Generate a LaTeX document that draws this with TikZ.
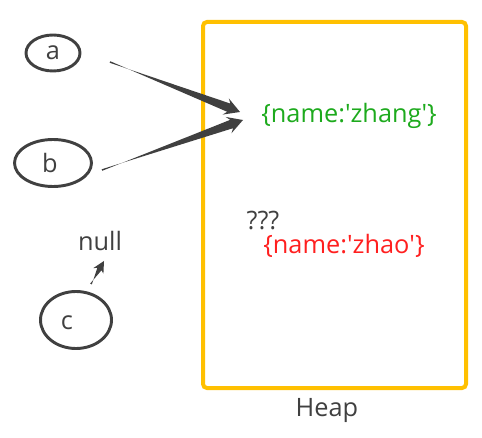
\documentclass[tikz,border=0pt]{standalone}
\usepackage{fontspec}
\setmainfont{Open Sans}
\usetikzlibrary{calc,shapes.geometric}
\definecolor{dgray}{HTML}{404040}
\definecolor{heapy}{HTML}{FFC000}
\definecolor{zgreen}{HTML}{1DAA1D}
\definecolor{zred}{HTML}{FF1F1F}
\tikzset{
  var/.style={ellipse, draw=dgray, line width=2.2pt, inner sep=0pt},
  lbl/.style={inner sep=0pt, text=dgray, font=\fontsize{19}{22}\selectfont},
}
% tapered arrow: #1 from, #2 to, #3 start half-width, #4 shaft half-width, #5 head length, #6 head half-width, #7 barb length
\newcommand\taperarrow[7]{%
  \coordinate (tmpH) at ($(#2)!#5!(#1)$);
  \coordinate (tmpB) at ($(#2)!#7!(#1)$);
  \fill[dgray] ($(#1)!#3!90:(#2)$) -- ($(tmpH)!#4!-90:(#2)$) -- ($(tmpB)!#6!-90:(#2)$) -- (#2)
     -- ($(tmpB)!#6!90:(#2)$) -- ($(tmpH)!#4!90:(#2)$) -- ($(#1)!#3!-90:(#2)$) -- cycle;}
\newcommand\sq{\textquotesingle}
\begin{document}
\begin{tikzpicture}[x=0.75pt,y=-0.75pt]
\useasboundingbox (0,0) rectangle (482,438);
% heap
\draw[heapy, line width=3pt, rounded corners=3pt] (203,22) rectangle (466,388);
\node[lbl] (heap) at (327,410) {Heap};
% objects
\node[lbl, text=zgreen] (zhang) at (349,116) {\{name:\sq zhang\sq\}};
\node[lbl] (q) at (263,221) {???};
\node[lbl, text=zred] (zhao) at (344,246) {\{name:\sq zhao\sq\}};
% variables
\node[var, minimum width=40.5pt, minimum height=27pt] (a) at (53,53) {};
\node[lbl] (at) at (53,53) {a};
\node[var, minimum width=57.75pt, minimum height=35.25pt] (b) at (53,163) {};
\node[lbl] (bt) at (50,163) {b};
\node[var, minimum width=53.25pt, minimum height=42.75pt] (c) at (76,320) {};
\node[lbl] (ct) at (67,323) {c};
\node[lbl] (null) at (100,241) {null};
% arrow ends
\coordinate (as) at (110,62);
\coordinate (ae) at (240,112);
\coordinate (bs) at (102,170);
\coordinate (be) at (243,120);
\coordinate (cs) at (91,284);
\coordinate (ce) at (104,261);
\taperarrow{as}{ae}{0.6pt}{3.3pt}{9pt}{6.5pt}{11.5pt}
\taperarrow{bs}{be}{0.6pt}{3.3pt}{9pt}{6.5pt}{11.5pt}
\taperarrow{cs}{ce}{0.7pt}{1.8pt}{7pt}{4.3pt}{8.5pt}
\end{tikzpicture}
\end{document}
